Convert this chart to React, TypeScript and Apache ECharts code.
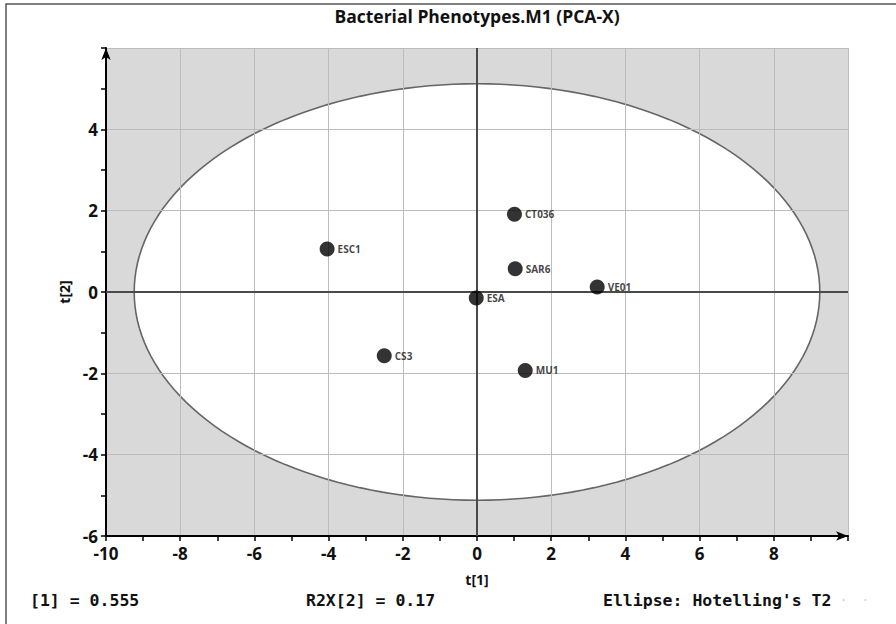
import React, { useEffect, useRef } from "react";
import * as echarts from "echarts";

const sampleNames = ["ESC1", "CT036", "SAR6", "VE01", "ESA", "CS3", "MU1"];
const t1Values = [-4.04, 1.01, 1.03, 3.24, -0.02, -2.5, 1.3];
const t2Values = [1.06, 1.91, 0.57, 0.12, -0.15, -1.57, -1.93];

const xTicks = [-10, -8, -6, -4, -2, 0, 2, 4, 6, 8];
const yTicks = [-6, -4, -2, 0, 2, 4];

const ellipseSemiAxes = [9.24, 5.12];

const titleText = "Bacterial Phenotypes.M1 (PCA-X)";
const footerTexts = ["[1] = 0.555", "R2X[2] = 0.17", "Ellipse: Hotelling's T2"];

export default function App() {
  const ref = useRef<HTMLDivElement>(null);

  useEffect(() => {
    document.body.style.margin = "0";
    const chart = echarts.init(ref.current!, null, { renderer: "svg" });

    const labelFont = {
      fontFamily: "Open Sans",
      fontWeight: "bold" as const,
      fontSize: 17,
      color: "#111",
    };
    const footerStyle = {
      fontFamily: "DejaVu Sans Mono",
      fontWeight: "bold" as const,
      fontSize: 16.5,
      fill: "#111",
      verticalAlign: "middle" as const,
    };

    const option: any = {
      animation: false,
      backgroundColor: "#fff",
      grid: { left: 106, right: 48, top: 48, bottom: 88 },
      xAxis: {
        type: "value",
        min: -10,
        max: 10,
        interval: 2,
        name: "t[1]",
        nameLocation: "middle",
        nameGap: 36,
        nameTextStyle: { fontFamily: "Open Sans", fontWeight: "bold", fontSize: 14, color: "#111" },
        axisLine: {
          show: true,
          onZero: false,
          symbol: ["none", "arrow"],
          symbolSize: [7, 12],
          lineStyle: { color: "#000", width: 2 },
        },
        axisTick: { show: true, length: 5, lineStyle: { color: "#000", width: 1.5 } },
        minorTick: { show: true, splitNumber: 2, length: 5, lineStyle: { color: "#000", width: 1.5 } },
        axisLabel: {
          ...labelFont,
          margin: 9,
          formatter: (v: number) => (xTicks.includes(v) ? String(v) : ""),
        },
        splitLine: { show: true, lineStyle: { color: "#bcbcbc", width: 1 } },
      },
      yAxis: {
        type: "value",
        min: -6,
        max: 6,
        interval: 2,
        name: "t[2]",
        nameLocation: "middle",
        nameGap: 29,
        nameRotate: 90,
        nameTextStyle: { fontFamily: "Open Sans", fontWeight: "bold", fontSize: 14, color: "#111" },
        axisLine: {
          show: true,
          onZero: false,
          symbol: ["none", "arrow"],
          symbolSize: [7, 12],
          lineStyle: { color: "#000", width: 2 },
        },
        axisTick: { show: true, length: 5, lineStyle: { color: "#000", width: 1.5 } },
        minorTick: { show: true, splitNumber: 2, length: 5, lineStyle: { color: "#000", width: 1.5 } },
        axisLabel: {
          ...labelFont,
          margin: 8,
          formatter: (v: number) => (yTicks.includes(v) ? String(v) : ""),
        },
        splitLine: { show: true, lineStyle: { color: "#bcbcbc", width: 1 } },
      },
      graphic: [
        {
          type: "rect",
          shape: { x: 6, y: 4, width: 1000, height: 1000 },
          style: { fill: "none", stroke: "#555", lineWidth: 1.5 },
          silent: true,
        },
        {
          type: "text",
          x: 477,
          y: 16,
          style: {
            text: titleText,
            fontFamily: "Open Sans",
            fontWeight: "bold",
            fontSize: 17.5,
            fill: "#111",
            align: "center",
            verticalAlign: "middle",
          },
        },
        { type: "text", x: 30, y: 600, style: { ...footerStyle, text: footerTexts[0] } },
        { type: "text", x: 306, y: 600, style: { ...footerStyle, text: footerTexts[1] } },
        { type: "text", x: 603, y: 600, style: { ...footerStyle, text: footerTexts[2] } },
        {
          type: "text",
          x: 840,
          y: 600,
          style: {
            text: "·  ·",
            fontFamily: "DejaVu Sans Mono",
            fontSize: 12,
            fill: "#c8c8c8",
            verticalAlign: "middle",
          },
        },
      ],
      series: [
        {
          type: "custom",
          z: -1,
          silent: true,
          data: [[0, 0]],
          renderItem: (params: any, api: any) => {
            const [a, b] = ellipseSemiAxes;
            const tl = api.coord([-10, 6]);
            const br = api.coord([10, -6]);
            const pts: number[][] = [];
            const n = 180;
            for (let i = 0; i < n; i++) {
              const th = (i / n) * Math.PI * 2;
              pts.push(api.coord([a * Math.cos(th), b * Math.sin(th)]));
            }
            return {
              type: "group",
              children: [
                {
                  type: "rect",
                  shape: { x: tl[0], y: tl[1], width: br[0] - tl[0], height: br[1] - tl[1] },
                  style: { fill: "#d9d9d9" },
                },
                {
                  type: "polygon",
                  shape: { points: pts },
                  style: { fill: "#ffffff", stroke: "#666", lineWidth: 1.6 },
                },
              ],
            };
          },
        },
        {
          type: "scatter",
          symbol: "circle",
          symbolSize: 15,
          itemStyle: { color: "#000" },
          data: t1Values.map((x, i) => ({ value: [x, t2Values[i]], name: sampleNames[i] })),
          label: {
            show: true,
            position: "right",
            distance: 3,
            formatter: (p: any) => p.name,
            fontFamily: "Open Sans",
            fontWeight: "bold",
            fontSize: 10,
            color: "#111",
          },
          markLine: {
            silent: true,
            symbol: "none",
            label: { show: false },
            lineStyle: { color: "#4a4a4a", width: 2, type: "solid" },
            data: [{ xAxis: 0 }, { yAxis: 0 }],
          },
          z: 5,
        },
      ],
    };

    chart.setOption(option);
    return () => chart.dispose();
  }, []);

  return <div ref={ref} style={{ width: 896, height: 624 }} />;
}
